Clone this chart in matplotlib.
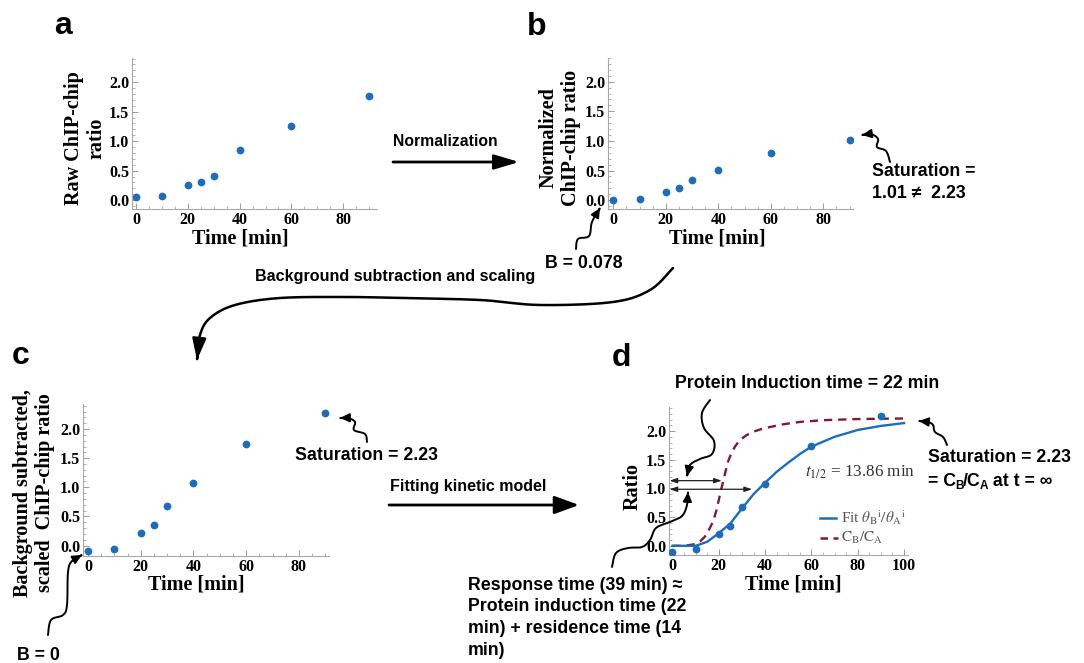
import numpy as np
import matplotlib
matplotlib.use("Agg")
import matplotlib.pyplot as plt
from matplotlib.path import Path
from matplotlib.patches import FancyArrowPatch
from matplotlib.ticker import MultipleLocator

plt.rcParams['mathtext.fontset'] = 'stix'

# ---------------- data ----------------
time_min = [0, 10, 20, 25, 30, 40, 60, 90]
raw_ratio = [0.05, 0.07, 0.25, 0.31, 0.41, 0.85, 1.26, 1.76]
norm_ratio = [0.01, 0.02, 0.14, 0.20, 0.34, 0.51, 0.79, 1.01]
scaled_ratio = [-0.10, -0.06, 0.21, 0.35, 0.67, 1.08, 1.74, 2.27]

fit_t = [0, 5, 10, 15, 20, 25, 30, 35, 40, 45, 50, 55, 60, 70, 80, 90, 100]
fit_v = [0.0, 0.0, 0.0, 0.07, 0.22, 0.39, 0.65, 0.90, 1.10, 1.29, 1.45, 1.60, 1.73, 1.90, 2.02, 2.09, 2.14]

cb_t = [0, 5, 10, 12, 14, 16, 17.5, 19, 20, 21, 22, 23, 24, 25.5, 27, 29, 32, 35, 38, 42, 48, 55, 65, 80, 100]
cb_v = [0.0, 0.0, 0.03, 0.08, 0.16, 0.30, 0.42, 0.62, 0.80, 0.98, 1.14, 1.31, 1.47, 1.62, 1.73, 1.84, 1.93, 1.99, 2.03, 2.07, 2.12, 2.16, 2.19, 2.21, 2.22]

x_ticks_abc = [0, 20, 40, 60, 80]
x_ticks_d = [0, 20, 40, 60, 80, 100]
y_ticks = [0.0, 0.5, 1.0, 1.5, 2.0]

BLUE = '#1f6cb8'
RED = '#7e1a33'
W, H = 1084, 663

fig = plt.figure(figsize=(W / 100, H / 100), dpi=100)


def px_axes(l, r, t, b):
    return fig.add_axes([l / W, (H - b) / H, (r - l) / W, (b - t) / H])


def style(ax, xlim, ylim, xticks):
    ax.set_xlim(*xlim)
    ax.set_ylim(*ylim)
    for s in ['top', 'right']:
        ax.spines[s].set_visible(False)
    for s in ['left', 'bottom']:
        ax.spines[s].set_color('#a8a8a8')
        ax.spines[s].set_linewidth(0.8)
    ax.set_xticks(xticks)
    ax.set_yticks(y_ticks)
    ax.set_xticklabels([str(v) for v in xticks])
    ax.set_yticklabels(['%.1f' % v for v in y_ticks])
    ax.xaxis.set_minor_locator(MultipleLocator(5))
    ax.yaxis.set_minor_locator(MultipleLocator(0.1))
    ax.tick_params(which='major', direction='in', length=4, width=0.7, color='#999999', pad=2)
    ax.tick_params(which='minor', direction='in', length=2, width=0.6, color='#aaaaaa')
    for lab in ax.get_xticklabels() + ax.get_yticklabels():
        lab.set_fontfamily('Liberation Serif')
        lab.set_fontweight('bold')
        lab.set_fontsize(11.5)
    ax.patch.set_alpha(0)


MS = 5.6

axa = px_axes(132, 377, 58, 209)
style(axa, (-1.5, 93), (-0.15, 2.41), x_ticks_abc)
axa.plot(time_min, raw_ratio, 'o', color=BLUE, ms=MS, mec='none')

axb = px_axes(608, 853, 58, 209)
style(axb, (-2.0, 91.3), (-0.15, 2.40), x_ticks_abc)
axb.plot(time_min, norm_ratio, 'o', color=BLUE, ms=MS, mec='none')

axc = px_axes(83, 329, 404, 556)
style(axc, (-1.9, 91.4), (-0.18, 2.43), x_ticks_abc)
axc.plot(time_min, scaled_ratio, 'o', color=BLUE, ms=MS, mec='none')

axd = px_axes(669, 908, 407, 555)
style(axd, (-1.5, 101.7), (-0.16, 2.42), x_ticks_d)
axd.plot(cb_t, cb_v, color=RED, lw=1.7, linestyle=(0, (3.5, 2.5)))
axd.plot(fit_t, fit_v, color=BLUE, lw=1.7)
axd.plot(time_min, scaled_ratio, 'o', color=BLUE, ms=MS, mec='none', zorder=5)
# double-headed arrows in data coords of panel d
for yv, xe in [(1.136, 21.3), (0.986, 34.4)]:
    axd.annotate('', xy=(xe, yv), xytext=(-1.3, yv),
                 arrowprops=dict(arrowstyle='<|-|>,head_length=0.45,head_width=0.15',
                                 color='#222222', lw=0.9, shrinkA=0, shrinkB=0))

# ---------------- overlay in pixel coordinates ----------------
ov = fig.add_axes([0, 0, 1, 1])
ov.set_xlim(0, W)
ov.set_ylim(H, 0)
ov.axis('off')
ov.patch.set_alpha(0)


def T(x, y, s, size=12.8, family='Liberation Sans', weight='bold', ha='left', va='center', **kw):
    return ov.text(x, y, s, fontsize=size, fontfamily=family, fontweight=weight,
                   ha=ha, va=va, **kw)


def smooth(pts, n=16):
    pts = np.array(pts, float)
    P = np.vstack([pts[0], pts, pts[-1]])
    out = []
    for i in range(1, len(P) - 2):
        p0, p1, p2, p3 = P[i - 1], P[i], P[i + 1], P[i + 2]
        for t in np.linspace(0, 1, n, endpoint=False):
            out.append(0.5 * ((2 * p1) + (-p0 + p2) * t + (2 * p0 - 5 * p1 + 4 * p2 - p3) * t ** 2
                              + (-p0 + 3 * p1 - 3 * p2 + p3) * t ** 3))
    out.append(pts[-1])
    return np.array(out)


def curve_arrow(pts, lw=1.4, hl=5.5, hw=2.6):
    v = smooth(pts)
    p = Path(v)
    a = FancyArrowPatch(path=p, arrowstyle='-|>,head_length=%g,head_width=%g' % (hl, hw),
                        mutation_scale=1, color='black', lw=lw,
                        transform=ov.transData, joinstyle='round', capstyle='round')
    ov.add_patch(a)


def straight_arrow(x0, x1, y, lw=2.0, hl=14, hw=4.5):
    a = FancyArrowPatch((x0, y), (x1, y), arrowstyle='-|>,head_length=%g,head_width=%g' % (hl, hw),
                        mutation_scale=1, color='black', lw=lw, shrinkA=0, shrinkB=0,
                        transform=ov.transData)
    ov.add_patch(a)


# panel letters
for x, y, s in [(54, 34, 'a'), (527, 35, 'b'), (12, 364, 'c'), (612, 366, 'd')]:
    T(x, y, s, size=23, va='baseline')

# axis labels
lab = dict(family='Liberation Serif', weight='bold', size=14.5, ha='center', va='center')
T(240, 239, 'Time [min]', **lab)
T(717, 238, 'Time [min]', **lab)
T(196, 585, 'Time [min]', **lab)
T(793, 585, 'Time [min]', **lab)
T(85, 138, 'Raw ChIP-chip\nratio', rotation=90, multialignment='center', linespacing=1.15, **lab)
T(560, 138, 'Normalized\nChIP-chip ratio', rotation=90, multialignment='center', linespacing=1.15, **lab)
T(34, 493, 'Background subtracted,\nscaled  ChIP-chip ratio', rotation=90, multialignment='center',
  linespacing=1.15, **lab)
T(633, 487, 'Ratio', rotation=90, **lab)

# arrows between panels
T(393, 142, 'Normalization', size=11.3)
straight_arrow(393, 519, 162, hl=15, hw=4.5)
T(390, 487, 'Fitting kinetic model', size=11.5)
straight_arrow(389, 579, 505, hl=15, hw=5.5)
T(255, 277, 'Background subtraction and scaling', size=11.6)
curve_arrow([(673, 268), (650, 290), (613, 302), (540, 305), (480, 300), (400, 298),
             (347, 297), (280, 298), (235, 305), (210, 318), (200, 335), (197, 360)],
            lw=1.8, hl=13, hw=4.2)

# panel b annotations
T(872, 172, 'Saturation =')
T(872, 194, '1.01 \u2260  2.23')
curve_arrow([(890, 162), (886, 151), (877, 147), (878, 139), (871, 134), (862, 135)])
T(545, 263, 'B = 0.078')
curve_arrow([(576, 249), (578, 239), (589, 236), (592, 222), (600, 208)])

# panel c annotations
T(295, 455, 'Saturation = 2.23')
curve_arrow([(367, 442), (365, 434), (354, 430), (355, 422), (348, 418), (340, 418)])
T(17, 655, 'B = 0')
curve_arrow([(48, 635), (51, 620), (63, 615), (67, 605), (68, 572), (72, 561), (82, 555)])

# panel d annotations
T(675, 384, 'Protein Induction time = 22 min')
curve_arrow([(710, 400), (702, 413), (704, 428), (714, 441), (712, 454), (700, 459), (690, 465), (687, 476)])
resp = ['Response time (39 min) \u2248', 'Protein induction time (22', 'min) + residence time (14', 'min)']
for i, s in enumerate(resp):
    T(468, 585 + 21.7 * i, s)
curve_arrow([(612, 567), (616, 553), (628, 548), (642, 547), (650, 540), (656, 528),
             (670, 522), (682, 516), (687, 505), (688, 492)])

T(928, 458, 'Saturation = 2.23')
curve_arrow([(947, 445), (943, 437), (935, 432), (933, 425), (928, 422), (919, 421)])

# "= C_B/C_A at t = inf" built piece by piece
rend = fig.canvas.get_renderer()
inv = ov.transData.inverted()
x = 928
for s, sz, dy in [('= C', 12.8, 0), ('B', 8.5, 5), ('/C', 12.8, 0), ('A', 8.5, 5), (' at t = \u221e', 12.8, 0)]:
    t = T(x, 481 + dy, s, size=sz)
    bb = t.get_window_extent(renderer=rend)
    x = inv.transform((bb.x1, bb.y0))[0] - (1.0 if sz > 10 else 0.5)

T(805, 472, r'$t_{1/2}$ = 13.86 min', family='Liberation Serif', weight='normal', size=12.3, color='#333333')

# legend
ov.plot([820, 836], [518, 518], color=BLUE, lw=1.8)
ov.plot([820, 838], [538, 538], color=RED, lw=1.8, linestyle=(0, (3.0, 2.2)))
T(841, 518, r'Fit $\theta_{\rm B}{}^{\rm i}/\theta_{\rm A}{}^{\rm i}$', family='Liberation Serif',
  weight='normal', size=11, color='#555555')
T(841, 538, r'$\rm C_B/C_A$', family='Liberation Serif', weight='normal', size=11, color='#555555')

fig.savefig('out.png', dpi=100)
